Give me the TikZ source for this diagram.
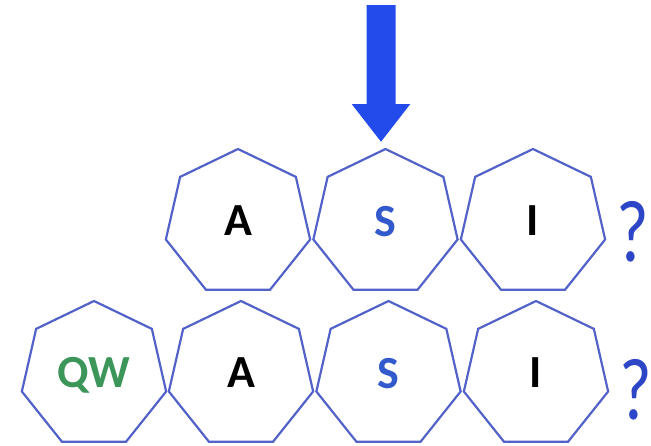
\documentclass[tikz,border=0pt]{standalone}
\usepackage{fontspec}
\setmainfont{Carlito}
\usetikzlibrary{shapes.geometric,arrows.meta}
\definecolor{hepline}{RGB}{82,98,200}
\definecolor{arrowblue}{RGB}{35,75,235}
\definecolor{letterblue}{RGB}{50,90,205}
\definecolor{qwgreen}{RGB}{60,150,90}
\definecolor{qblue}{RGB}{45,70,200}
\tikzset{
  hep/.style={regular polygon, regular polygon sides=7, minimum size=148pt,
    inner sep=0pt, outer sep=0pt, draw=hepline, line width=2.2pt,
    font=\fontsize{46}{50}\selectfont\bfseries},
  qmark/.style={text=qblue, font=\fontsize{88}{96}\selectfont, inner sep=0pt, xscale=0.8}
}
\newcommand{\up}[1]{\raisebox{4pt}{#1}}
\begin{document}
\begin{tikzpicture}[x=1pt,y=-1pt]
\useasboundingbox (0,0) rectangle (651,445);
% top row
\node[hep] (tA) at (238,223) {\up{A}};
\node[hep, text=letterblue] (tS) at (385.5,223) {\up{S}};
\node[hep] (tI) at (533,223) {\up{I}};
\node[qmark] (tq) at (633,232) {?};
% bottom row
\node[hep, text=qwgreen] (bQW) at (94,375) {\up{QW}};
\node[hep] (bA) at (241,375) {\up{A}};
\node[hep, text=letterblue] (bS) at (388.5,375) {\up{S}};
\node[hep] (bI) at (536,375) {\up{I}};
\node[qmark] (bq) at (636,390) {?};
% arrow
\coordinate (arrtop) at (381,5);
\draw[arrowblue, line width=29pt, -{Triangle[width=56pt,length=38pt]}]
  (arrtop) -- ([xshift=-4.5pt,yshift=7pt]tS.north);
\end{tikzpicture}
\end{document}
